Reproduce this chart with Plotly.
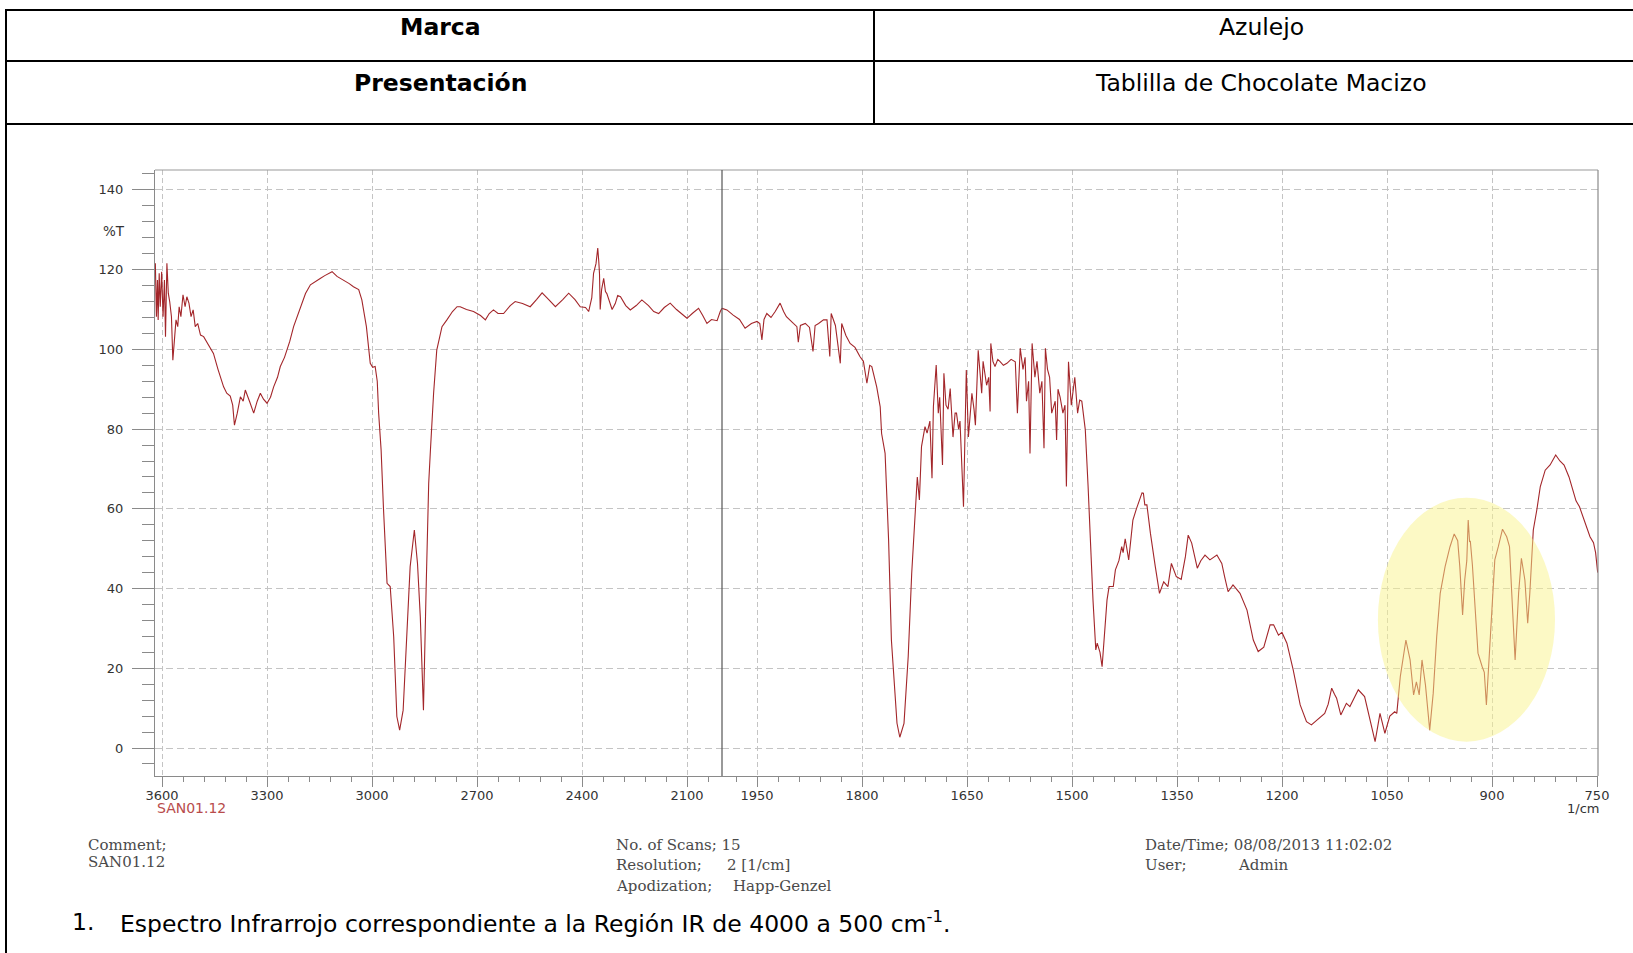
import plotly.graph_objects as go

W, H = 1633, 953

# ---- spectrum, high-wavenumber segment (3620 -> 2000 1/cm) ----
wavenumber_hi = [
    3619, 3616, 3613, 3611, 3608, 3605, 3601, 3597, 3593, 3590, 3586, 3582, 3578, 3573,
    3569, 3565, 3560, 3555, 3551, 3546, 3540, 3534, 3529, 3523, 3517, 3511, 3505, 3498,
    3490, 3481, 3470, 3453, 3440, 3424, 3415, 3405, 3398, 3393, 3385, 3376, 3368, 3362,
    3350, 3338, 3328, 3319, 3310, 3300, 3290, 3281, 3270, 3262, 3250, 3243, 3235, 3224,
    3215, 3205, 3190, 3176, 3160, 3148, 3135, 3125, 3114, 3100, 3081, 3065, 3053, 3038,
    3029, 3016, 3005, 2998, 2991, 2985, 2981, 2974, 2967, 2957, 2948, 2938, 2929, 2921,
    2911, 2900, 2891, 2879, 2870, 2862, 2853, 2845, 2838, 2833, 2824, 2815, 2800, 2786,
    2770, 2757, 2748, 2730, 2710, 2690, 2676, 2665, 2653, 2640, 2624, 2605, 2591, 2570,
    2548, 2530, 2514, 2495, 2476, 2455, 2438, 2420, 2405, 2390, 2381, 2372, 2367, 2360,
    2355, 2352, 2350, 2348, 2344, 2338, 2333, 2329, 2322, 2314, 2305, 2298, 2290, 2275,
    2262, 2245, 2229, 2210, 2195, 2181, 2165, 2148, 2130, 2115, 2100, 2085, 2067, 2055,
    2043, 2030, 2014, 2005, 2000,
]
transmittance_hi = [
    121.6, 108.2, 117.4, 107.4, 119.1, 110.7, 119.5, 108.2, 117.4, 103.2, 121.6, 114.1, 112.0, 108.2,
    97.3, 102.4, 107.4, 105.7, 110.7, 108.2, 113.7, 110.7, 113.2, 111.6, 108.2, 109.9, 105.7, 106.5,
    103.6, 103.2, 101.5, 99.0, 95.0, 90.6, 89.0, 88.3, 86.0, 81.0, 84.0, 88.1, 87.0, 89.8,
    87.0, 84.0, 87.0, 89.0, 87.5, 86.5, 88.0, 90.6, 93.0, 95.7, 98.0, 99.8, 102.0, 105.7,
    108.0, 110.7, 114.0, 116.2, 117.0, 117.8, 118.5, 119.0, 119.5, 118.3, 117.4, 116.5, 115.7, 115.0,
    112.4, 105.7, 96.5, 95.5, 95.7, 92.0, 84.0, 74.8, 59.7, 41.3, 40.5, 27.9, 7.9, 4.5,
    9.5, 27.9, 45.5, 54.7, 46.3, 32.9, 9.5, 41.3, 66.4, 74.8, 89.0, 99.8, 105.7, 107.4,
    109.5, 110.7, 110.7, 110.0, 109.5, 108.5, 107.4, 109.0, 109.9, 109.0, 109.0, 111.0, 112.0, 111.5,
    110.7, 112.5, 114.2, 112.5, 110.7, 112.5, 114.1, 112.5, 110.7, 110.5, 109.5, 113.0, 119.1, 121.5,
    125.4, 122.0, 119.0, 110.0, 115.0, 117.8, 114.5, 114.0, 112.0, 110.0, 111.5, 113.5, 113.2, 111.0,
    109.9, 111.0, 112.4, 111.0, 109.5, 109.0, 110.5, 111.6, 110.0, 108.8, 107.8, 109.0, 110.3, 108.5,
    106.5, 107.5, 107.2, 109.5, 110.3,
]

# ---- spectrum, low-wavenumber segment (2000 -> 749 1/cm) ----
wavenumber_lo = [
    2000, 1993, 1984, 1975, 1967, 1958, 1950, 1946, 1943, 1940, 1936, 1930, 1924, 1917,
    1912, 1908, 1898, 1893, 1891, 1888, 1881, 1875, 1870, 1867, 1862, 1855, 1850, 1846,
    1844, 1838, 1831, 1829, 1823, 1817, 1810, 1803, 1798, 1793, 1789, 1786, 1779, 1774,
    1772, 1767, 1762, 1758, 1750, 1746, 1740, 1734, 1729, 1724, 1721, 1718, 1715, 1710,
    1707, 1703, 1700, 1698, 1694, 1691, 1689, 1685, 1683, 1680, 1677, 1674, 1670, 1667,
    1665, 1662, 1660, 1655, 1651, 1648, 1643, 1640, 1638, 1634, 1631, 1629, 1627, 1622,
    1619, 1617, 1616, 1613, 1610, 1606, 1603, 1598, 1593, 1587, 1581, 1578, 1574, 1570,
    1567, 1565, 1562, 1560, 1557, 1553, 1550, 1546, 1543, 1540, 1538, 1535, 1532, 1529,
    1524, 1522, 1520, 1517, 1513, 1510, 1508, 1505, 1501, 1496, 1492, 1489, 1486, 1483,
    1481, 1477, 1472, 1470, 1466, 1464, 1460, 1457, 1450, 1447, 1441, 1438, 1433, 1429,
    1427, 1424, 1419, 1413, 1408, 1403, 1400, 1398, 1396, 1393, 1388, 1381, 1375, 1369,
    1363, 1358, 1351, 1344, 1338, 1334, 1329, 1321, 1316, 1310, 1303, 1293, 1286, 1282,
    1277, 1270, 1260, 1250, 1241, 1234, 1226, 1217, 1212, 1205, 1200, 1193, 1184, 1174,
    1165, 1158, 1148, 1139, 1134, 1129, 1125, 1122, 1116, 1108, 1103, 1097, 1091, 1082,
    1074, 1067, 1060, 1053, 1046, 1039, 1036, 1031, 1023, 1017, 1012, 1008, 1004, 1000,
    995, 989, 984, 979, 974, 967, 960, 954, 949, 946, 942, 939, 936, 934,
    932, 931, 928, 923, 920, 914, 911, 908, 904, 900, 896, 891, 885, 879,
    875, 872, 867, 862, 858, 853, 849, 846, 841, 836, 831, 824, 817, 809,
    803, 797, 790, 785, 780, 775, 770, 765, 760, 755, 752, 749,
]
transmittance_lo = [
    110.3, 109.9, 108.6, 107.5, 105.3, 106.5, 107.0, 106.5, 102.4, 107.5, 109.0, 108.0, 109.5, 111.6,
    109.5, 108.2, 106.5, 105.7, 101.8, 106.0, 106.5, 105.5, 99.5, 106.0, 106.5, 107.4, 107.4, 98.2,
    109.0, 106.0, 96.5, 106.5, 103.5, 101.5, 100.5, 98.2, 97.0, 91.5, 96.0, 95.7, 90.6, 85.6,
    78.9, 73.9, 52.2, 27.1, 6.2, 2.7, 6.2, 22.9, 43.8, 60.5, 68.0, 62.2, 75.6, 80.6,
    79.0, 82.0, 67.7, 85.6, 96.1, 84.0, 88.0, 71.0, 94.0, 86.0, 85.0, 90.2, 78.0, 84.0,
    84.0, 80.0, 82.0, 60.5, 94.8, 78.0, 89.0, 85.0, 81.0, 99.8, 92.0, 89.0, 97.0, 91.0,
    93.0, 84.4, 101.5, 97.0, 95.7, 97.5, 97.0, 96.0, 96.5, 97.5, 96.9, 84.0, 100.3, 95.0,
    98.0, 87.0, 92.0, 73.9, 101.5, 93.0, 97.0, 89.0, 92.0, 75.2, 100.3, 95.0, 93.0, 84.0,
    87.0, 77.3, 90.0, 88.0, 84.0, 86.0, 65.6, 96.9, 86.0, 93.0, 84.0, 87.3, 87.0, 82.0,
    79.8, 65.6, 43.8, 37.1, 24.6, 26.3, 24.0, 20.4, 37.1, 40.5, 40.5, 44.7, 47.0, 50.5,
    49.0, 52.5, 47.2, 57.2, 60.0, 62.2, 64.0, 63.9, 61.0, 61.0, 53.9, 45.5, 38.8, 41.7,
    40.5, 46.3, 43.0, 42.3, 48.0, 53.4, 51.4, 45.1, 47.0, 48.4, 47.2, 48.4, 46.3, 43.0,
    39.2, 40.9, 38.8, 34.6, 27.1, 24.2, 25.3, 30.9, 30.9, 28.3, 29.0, 26.3, 19.6, 10.8,
    6.6, 5.8, 7.4, 8.7, 11.0, 15.0, 13.5, 12.5, 8.3, 11.2, 10.4, 12.5, 14.6, 12.9,
    7.0, 1.6, 8.7, 3.7, 8.0, 9.1, 8.7, 17.9, 27.1, 22.1, 13.3, 16.6, 13.3, 22.1,
    15.7, 4.5, 13.7, 27.9, 38.8, 45.5, 50.5, 53.7, 52.0, 45.5, 33.4, 42.1, 47.0, 57.2,
    51.7, 52.0, 45.9, 30.4, 23.8, 20.4, 19.0, 10.8, 22.0, 34.6, 47.2, 50.5, 54.9, 53.0,
    50.5, 39.6, 22.1, 38.8, 47.6, 42.1, 31.3, 38.8, 54.7, 59.7, 65.6, 69.7, 71.0, 73.5,
    72.0, 71.0, 68.0, 65.0, 62.0, 60.5, 58.0, 55.0, 53.0, 51.5, 49.0, 44.0,
]

x_ticks_hi = [3600, 3300, 3000, 2700, 2400, 2100]
x_ticks_lo = [1950, 1800, 1650, 1500, 1350, 1200, 1050, 900, 750]
y_ticks = [0, 20, 40, 60, 80, 100, 120, 140]

header_rows = [("Marca", "Azulejo"), ("Presentación", "Tablilla de Chocolate Macizo")]
caption = "Espectro Infrarrojo correspondiente a la Región IR de 4000 a 500 cm<sup>-1</sup>."

# highlighted band (wavenumber span, %T span)
highlight_x = [1063, 810]
highlight_y = [1.6, 62.8]

# ---- page geometry (pixels) ----
PL, PR, PT, PB = 155, 1598, 170, 776     # plot frame
BREAK_PX = 722                           # axis break at 2000 1/cm
Y_RANGE = [-7.02, 145.0]

LINE = "#a3262a"
AX = "#8a8a8a"
GRID = "#c4c4c4"
SANS = "DejaVu Sans"
SERIF = "DejaVu Serif"


def px(x):
    return x / W


def py(y):
    return 1 - y / H


fig = go.Figure()
fig.add_trace(go.Scatter(x=wavenumber_hi, y=transmittance_hi, xaxis="x", yaxis="y",
                         mode="lines", line=dict(color=LINE, width=1.1), hoverinfo="skip"))
fig.add_trace(go.Scatter(x=wavenumber_lo, y=transmittance_lo, xaxis="x2", yaxis="y",
                         mode="lines", line=dict(color=LINE, width=1.1), hoverinfo="skip"))

tick_font = dict(family=SANS, size=13, color="#333333")

common_x = dict(
    ticks="outside", ticklen=10, tickcolor=AX, tickwidth=1,
    showgrid=True, gridcolor=GRID, gridwidth=1, griddash="5px,3px",
    showline=True, linecolor=AX, linewidth=1, zeroline=False,
    tickfont=tick_font, anchor="y", fixedrange=True, ticklabelstandoff=-3,
    automargin=False,
)

fig.update_layout(
    template="none",
    width=W, height=H, autosize=False,
    margin=dict(l=0, r=0, t=0, b=0, pad=0, autoexpand=False),
    paper_bgcolor="white", plot_bgcolor="white",
    showlegend=False, hovermode=False,
    xaxis=dict(domain=[px(PL), px(BREAK_PX)], range=[3620, 2000],
               tickmode="array", tickvals=x_ticks_hi, ticktext=[str(v) for v in x_ticks_hi],
               minor=dict(tickmode="linear", tick0=3600, dtick=60, ticks="outside",
                          ticklen=5, tickcolor=AX, showgrid=False),
               **common_x),
    xaxis2=dict(domain=[px(BREAK_PX), px(PR)], range=[2000, 2000 - (PR - BREAK_PX) / 0.7],
                tickmode="array", tickvals=x_ticks_lo, ticktext=[str(v) for v in x_ticks_lo],
                minor=dict(tickmode="linear", tick0=750, dtick=30, ticks="outside",
                           ticklen=5, tickcolor=AX, showgrid=False),
                **common_x),
    yaxis=dict(domain=[py(PB), py(PT)], range=Y_RANGE,
               tickmode="array", tickvals=y_ticks, ticktext=[str(v) for v in y_ticks],
               ticks="outside", ticklen=22, tickcolor=AX, tickwidth=1,
               minor=dict(tickmode="linear", tick0=0, dtick=4, ticks="outside",
                          ticklen=12, tickcolor=AX, showgrid=False),
               showgrid=True, gridcolor=GRID, gridwidth=1, griddash="7px,4px",
               showline=True, linecolor=AX, linewidth=1, zeroline=False,
               tickfont=tick_font, anchor="x", fixedrange=True, ticklabelstandoff=6,
               automargin=False),
)

shapes = []


def hline(y, x0, x1, color="black", width=2):
    shapes.append(dict(type="line", xref="paper", yref="paper", x0=px(x0), x1=px(x1),
                       y0=py(y), y1=py(y), line=dict(color=color, width=width)))


def vline(x, y0, y1, color="black", width=2):
    shapes.append(dict(type="line", xref="paper", yref="paper", x0=px(x), x1=px(x),
                       y0=py(y0), y1=py(y1), line=dict(color=color, width=width)))


# table rules
hline(10, 5, W)
hline(61, 5, W)
hline(124, 5, W)
vline(6, 9, H)
vline(874, 10, 124)

# plot frame: top, right edge, axis break
hline(PT, PL, PR, color="#9a9a9a", width=1.2)
vline(PR, PT, PB, color="#8a8a8a", width=1.2)
vline(BREAK_PX, PT, PB, color="#555555", width=1.2)

# translucent highlight over the fingerprint band
shapes.append(dict(type="circle", xref="x2", yref="y", layer="above",
                   x0=highlight_x[0], x1=highlight_x[1], y0=highlight_y[0], y1=highlight_y[1],
                   fillcolor="rgba(250,244,140,0.5)", line=dict(width=0)))

fig.update_layout(shapes=shapes)

notes = []


def note(text, x, y, size, family=SANS, color="black", xanchor="left"):
    notes.append(dict(text=text, x=px(x), y=py(y), xref="paper", yref="paper",
                      xanchor=xanchor, yanchor="middle", showarrow=False,
                      font=dict(family=family, size=size, color=color)))


# header table
note("<b>%s</b>" % header_rows[0][0], 440, 27, 23.5, xanchor="center")
note(header_rows[0][1], 1261, 27, 23.5, xanchor="center")
note("<b>%s</b>" % header_rows[1][0], 440, 83, 23.5, xanchor="center")
note(header_rows[1][1], 1261, 83, 23.5, xanchor="center")

# axis annotations
note("%T", 114, 231, 13.5, color="#333333", xanchor="center")
note("SAN01.12", 155, 808, 14, color="#b84c4c")
note("1/cm", 1601, 808, 13, color="#333333", xanchor="right")

# instrument footer
foot = "#4a4a4a"
note("Comment;", 86, 845, 15, SERIF, foot)
note("SAN01.12", 86, 862, 15, SERIF, foot)
note("No. of Scans; 15", 614, 845, 15, SERIF, foot)
note("Resolution;", 614, 865, 15, SERIF, foot)
note("2 [1/cm]", 725, 865, 15, SERIF, foot)
note("Apodization;", 614, 886, 15, SERIF, foot)
note("Happ-Genzel", 731, 886, 15, SERIF, foot)
note("Date/Time; 08/08/2013 11:02:02", 1143, 845, 15, SERIF, foot)
note("User;", 1143, 865, 15, SERIF, foot)
note("Admin", 1236, 865, 15, SERIF, foot)

# caption
note("1.", 70, 922, 23.5)
note(caption, 118, 922, 23.5)

fig.update_layout(annotations=notes)

# page without default body margins so the figure fills the window exactly
page_css = ("document.documentElement.style.margin='0';"
            "document.body.style.margin='0';"
            "document.documentElement.style.overflow='hidden';"
            "document.body.style.overflow='hidden';")

fig.write_html("out.html", config={"displayModeBar": False, "staticPlot": True},
               post_script=page_css)
